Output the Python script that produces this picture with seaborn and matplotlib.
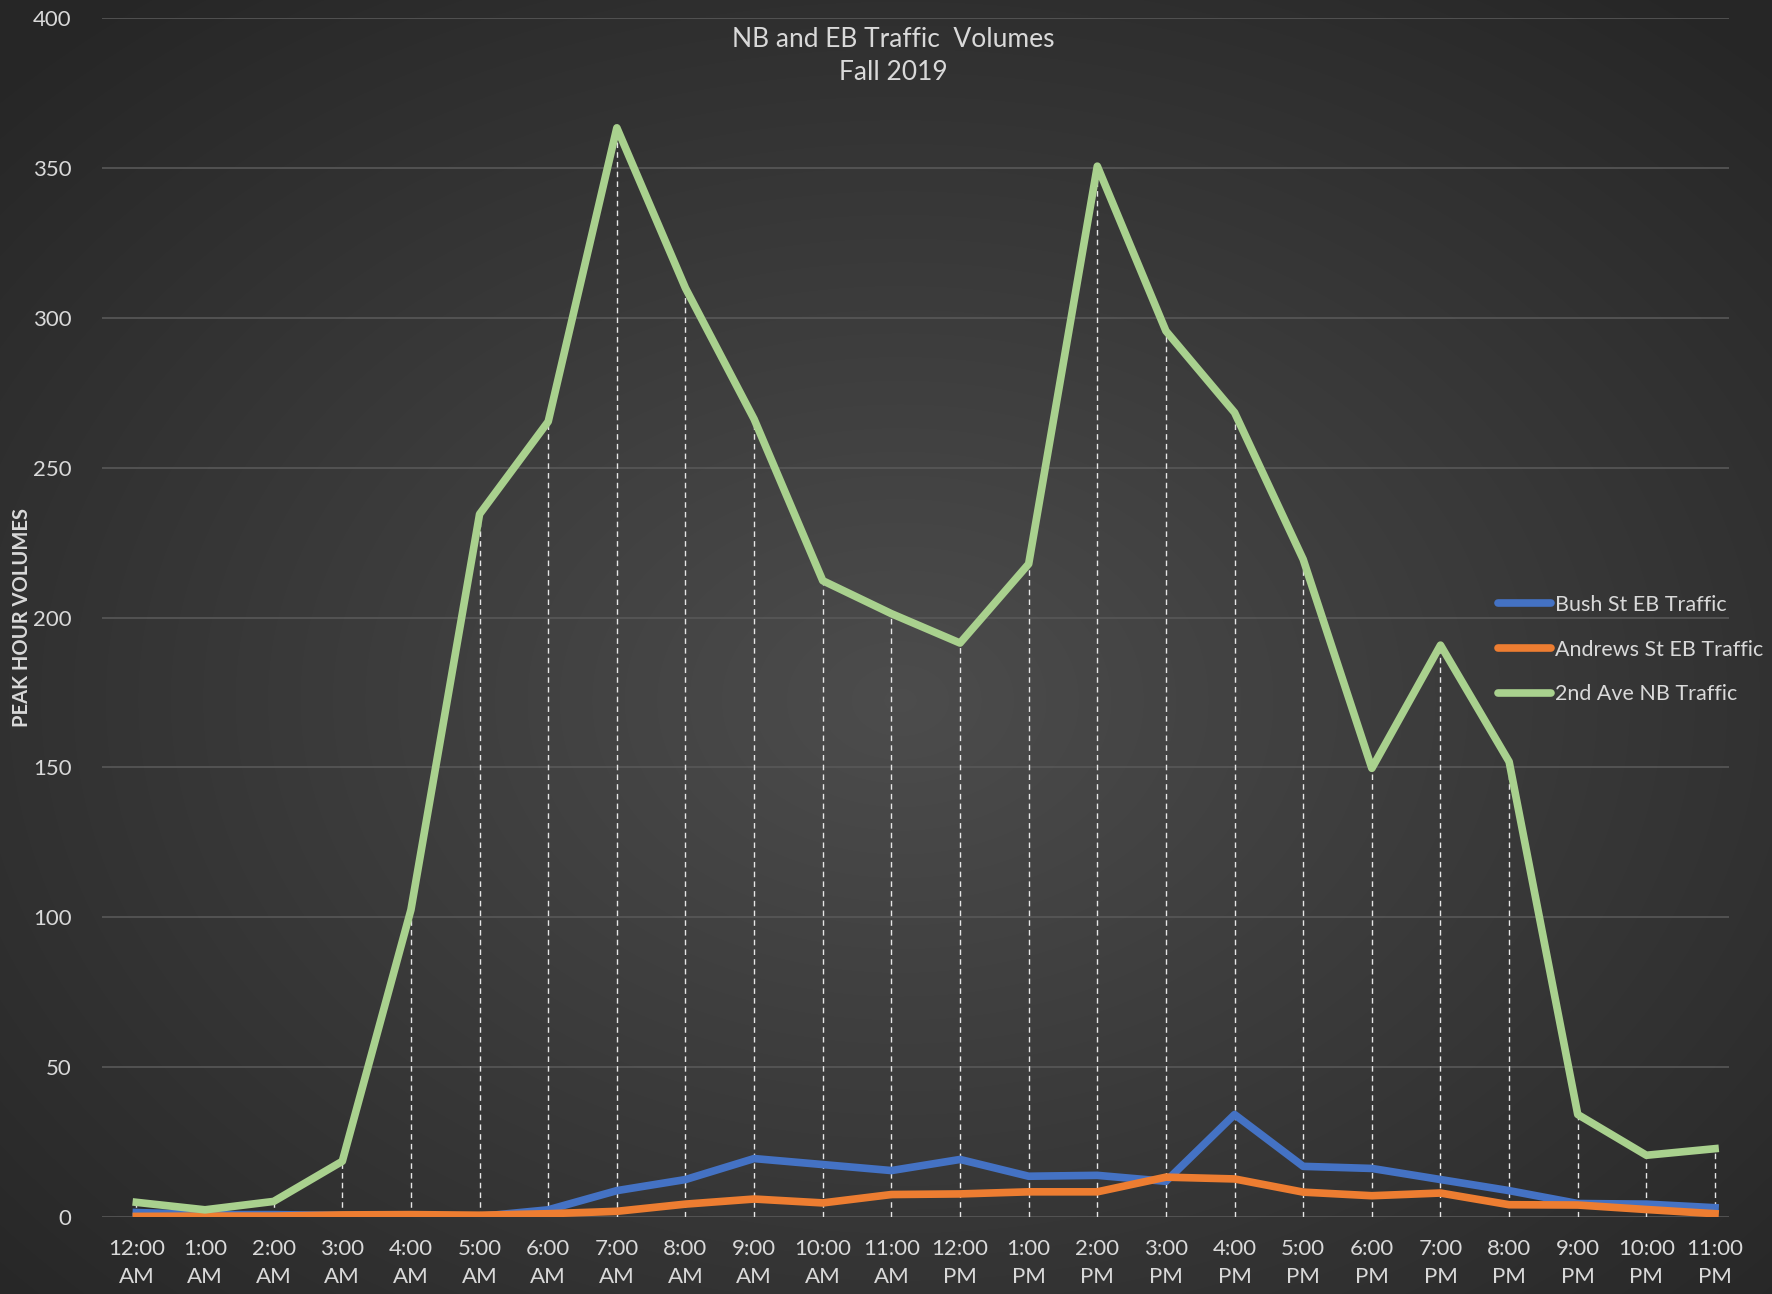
import matplotlib
matplotlib.use("Agg")
import matplotlib.pyplot as plt
import seaborn as sns
import pandas as pd
import numpy as np

hours = ["12:00\nAM", "1:00\nAM", "2:00\nAM", "3:00\nAM", "4:00\nAM", "5:00\nAM",
         "6:00\nAM", "7:00\nAM", "8:00\nAM", "9:00\nAM", "10:00\nAM", "11:00\nAM",
         "12:00\nPM", "1:00\nPM", "2:00\nPM", "3:00\nPM", "4:00\nPM", "5:00\nPM",
         "6:00\nPM", "7:00\nPM", "8:00\nPM", "9:00\nPM", "10:00\nPM", "11:00\nPM"]

bush = [1.5, 0.8, 0.8, 0.5, 0.5, 0.2, 2.4, 8.8, 12.5, 19.5, 17.5, 15.5,
        19.2, 13.6, 13.9, 11.9, 34.2, 16.9, 16.2, 12.5, 8.8, 4.5, 4.3, 3.1]
andrews = [0.2, 0.3, 0.3, 0.7, 0.8, 0.6, 1.1, 1.9, 4.3, 6.0, 4.7, 7.5,
           7.7, 8.4, 8.4, 13.3, 12.7, 8.3, 7.1, 8.0, 4.1, 4.0, 2.5, 1.1]
second_ave = [4.9, 2.4, 5.2, 18.6, 102.5, 234.5, 265.4, 363.4, 309.9, 266.2, 212.3, 201.3,
              191.5, 217.9, 350.6, 295.6, 268.4, 219.4, 149.7, 190.8, 151.9, 34.2, 20.6, 22.8]

series_names = ["Bush St EB Traffic", "Andrews St EB Traffic", "2nd Ave NB Traffic"]
colors = {"Bush St EB Traffic": "#4472C4",
          "Andrews St EB Traffic": "#ED7D31",
          "2nd Ave NB Traffic": "#A9D18E"}

df = pd.DataFrame({
    "hour": list(range(len(hours))) * 3,
    "volume": bush + andrews + second_ave,
    "series": [s for s in series_names for _ in hours],
})

txt = "#d9d9d9"
plt.rcParams["font.family"] = ["Lato", "DejaVu Sans"]

fig = plt.figure(figsize=(17.72, 12.94), dpi=100)

# radial gradient background
bg = fig.add_axes([0, 0, 1, 1], zorder=-10)
yy, xx = np.mgrid[0:1294, 0:1772]
r = np.sqrt(((xx - 900) / 1772) ** 2 + ((yy - 700) / 1294) ** 2) / 0.7
r = np.clip(r, 0, 1)
shade = 0.30 - 0.15 * r
bg.imshow(np.dstack([shade] * 3), aspect="auto", extent=[0, 1, 0, 1])
bg.axis("off")

ax = fig.add_axes([0.0576, 0.0595, 0.918, 0.9265])
ax.patch.set_alpha(0)

# drop lines from the top series
ax.vlines(range(len(hours)), 0, second_ave, colors="#e6e6e6",
          linestyles=(0, (4, 3)), linewidth=1.0, zorder=1)

sns.lineplot(data=df, x="hour", y="volume", hue="series", palette=colors,
             linewidth=5.5, ax=ax, zorder=3, legend=True)

ax.set_xlim(-0.5, 23.2)
ax.set_ylim(0, 400)
ax.set_yticks(range(0, 401, 50))
ax.set_xticks(range(len(hours)))
ax.set_xticklabels(hours, linespacing=1.5)
ax.tick_params(colors=txt, labelsize=16, length=0, pad=16)
ax.tick_params(axis="y", pad=22)
ax.yaxis.grid(True, color="#585858", linewidth=1.2)
ax.xaxis.grid(False)
ax.set_axisbelow(True)
for s in ax.spines.values():
    s.set_visible(False)

ax.set_xlabel("")
ax.set_ylabel("PEAK HOUR VOLUMES", color=txt, fontsize=14.5, fontweight="bold")
ax.yaxis.set_label_coords(-0.043, 0.5)

fig.text(0.504, 0.979, "NB and EB Traffic  Volumes\nFall 2019", ha="center", va="top",
         color=txt, fontsize=19, linespacing=1.4)

leg = ax.legend(loc="upper left", bbox_to_anchor=(0.846, 0.535), frameon=False,
                fontsize=15.5, labelcolor=txt, handlelength=2.5, handletextpad=0.15,
                labelspacing=1.15)
for h in leg.get_lines():
    h.set_linewidth(5.5)
    h.set_solid_capstyle("round")

fig.savefig("out.png", dpi=100)
